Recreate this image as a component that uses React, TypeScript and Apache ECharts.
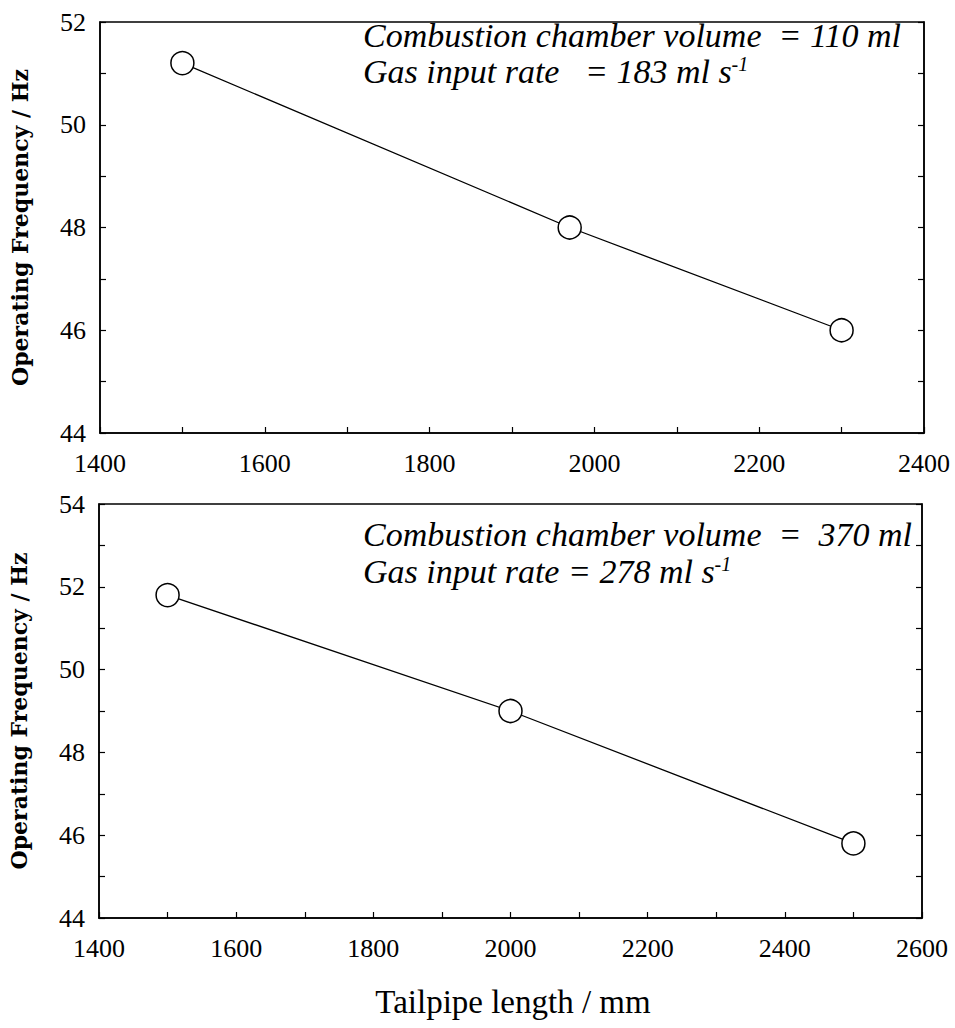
import React, { useEffect, useRef } from "react";
import * as echarts from "echarts";

const topX = [1500, 1970, 2300];
const topY = [51.2, 48.0, 46.0];
const botX = [1500, 2000, 2500];
const botY = [51.8, 49.0, 45.8];

const yTitle = "Operating Frequency / Hz";
const xTitle = "Tailpipe length / mm";
const topNote1 = "Combustion chamber volume  = 110 ml";
const topNote2 = "Gas input rate   = 183 ml s";
const botNote1 = "Combustion chamber volume  =  370 ml";
const botNote2 = "Gas input rate = 278 ml s";
const supText = "-1";

const SERIF = "Liberation Serif";

export default function App() {
  const ref = useRef<HTMLDivElement>(null);
  useEffect(() => {
    if (!ref.current) return;
    const chart = echarts.init(ref.current, null, { renderer: "svg" });
    const axisLine = { show: true, lineStyle: { color: "#000", width: 1.5 } };
    const tick = { show: true, inside: true, length: 6, lineStyle: { color: "#000", width: 1.2 } };
    const lbl = (mod: number, show = true) => ({
      show,
      fontFamily: SERIF,
      fontSize: 26,
      color: "#000",
      formatter: (v: number) => (Math.round(v) % mod === 0 ? String(v) : ""),
    });
    const xAxisBase = (gi: number, max: number) => ({
      type: "value",
      gridIndex: gi,
      min: 1400,
      max,
      interval: 100,
      axisLine,
      axisTick: tick,
      axisLabel: { ...lbl(200), margin: 17 },
      splitLine: { show: false },
    });
    const yAxisBase = (gi: number, max: number, right: boolean) => ({
      type: "value",
      gridIndex: gi,
      min: 44,
      max,
      interval: 1,
      position: right ? "right" : "left",
      axisLine,
      axisTick: tick,
      axisLabel: { ...lbl(2, !right), margin: 14 },
      splitLine: { show: false },
      name: right ? "" : yTitle,
      nameLocation: "middle",
      nameGap: 69,
      nameTextStyle: {
        fontFamily: "DejaVu Serif",
        fontWeight: "bold",
        fontSize: 22,
        color: "#000",
      },
    });
    const series = (xi: number, xs: number[], ys: number[]) => ({
      type: "line",
      xAxisIndex: xi,
      yAxisIndex: xi * 2,
      data: xs.map((x, i) => [x, ys[i]]),
      symbol: "circle",
      symbolSize: 23,
      itemStyle: { color: "#fff", borderColor: "#000", borderWidth: 1.5 },
      lineStyle: { color: "#000", width: 1.3 },
    });
    const note = (x: number, y: number, main: string, sup?: string) => ({
      type: "text",
      x,
      y,
      style: {
        text: sup ? `{m|${main}}{s|${sup}}` : `{m|${main}}`,
        verticalAlign: "middle",
        rich: {
          m: { fontFamily: SERIF, fontStyle: "italic", fontSize: 34, fill: "#000" },
          s: { fontFamily: SERIF, fontStyle: "italic", fontSize: 20, fill: "#000", verticalAlign: "top" },
        },
      },
    });
    chart.setOption({
      animation: false,
      backgroundColor: "#fff",
      grid: [
        { left: 100, top: 22, width: 824, height: 411, show: true, borderColor: "#000", borderWidth: 1.5 },
        { left: 99, top: 504, width: 823, height: 414, show: true, borderColor: "#000", borderWidth: 1.5 },
      ],
      xAxis: [xAxisBase(0, 2400), xAxisBase(1, 2600)],
      yAxis: [
        yAxisBase(0, 52, false),
        yAxisBase(0, 52, true),
        yAxisBase(1, 54, false),
        yAxisBase(1, 54, true),
      ],
      series: [series(0, topX, topY), series(1, botX, botY)],
      graphic: [
        note(363, 35, topNote1),
        note(363, 71, topNote2, supText),
        note(363, 534, botNote1),
        note(363, 571, botNote2, supText),
        {
          type: "text",
          x: 513,
          y: 1002,
          style: {
            text: xTitle,
            fontFamily: SERIF,
            fontSize: 33,
            fill: "#000",
            align: "center",
            verticalAlign: "middle",
          },
        },
      ],
    });
    return () => chart.dispose();
  }, []);
  return (
    <div
      ref={ref}
      style={{ position: "absolute", left: 0, top: 0, width: 955, height: 1028 }}
    />
  );
}
